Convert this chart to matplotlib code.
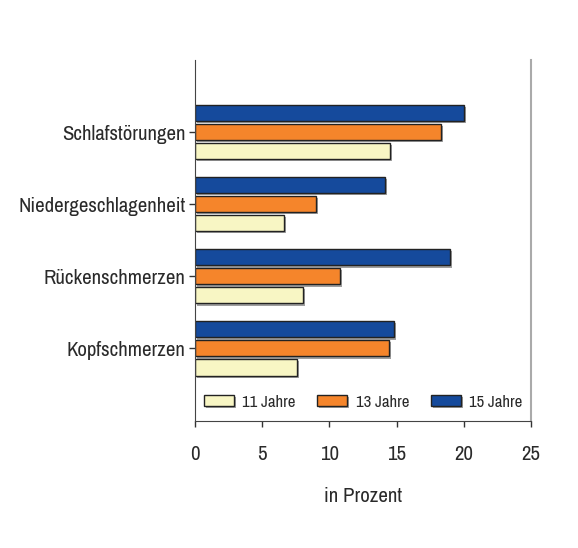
import matplotlib
matplotlib.use('Agg')
import matplotlib.pyplot as plt
import matplotlib.patheffects as pe
import numpy as np

plt.rcParams['font.family'] = ['Archivo Narrow', 'Roboto Condensed', 'DejaVu Sans']

categories = ['Kopfschmerzen', 'Rückenschmerzen', 'Niedergeschlagenheit', 'Schlafstörungen']
jahre_11 = [7.6, 8.0, 6.6, 14.5]
jahre_13 = [14.4, 10.8, 9.0, 18.3]
jahre_15 = [14.8, 19.0, 14.1, 20.0]
series_labels = ['11 Jahre', '13 Jahre', '15 Jahre']
colors = ['#f8f6c4', '#f5852b', '#154a9c']

fig = plt.figure(figsize=(5.78, 5.48), dpi=100)
ax = fig.add_axes([0.3374, 0.2318, 0.5813, 0.6587])

y = np.arange(len(categories))
step = 0.264
h = 0.23
shadow = [pe.SimplePatchShadow(offset=(1.5, -1.5), shadow_rgbFace='#777777', alpha=0.7), pe.Normal()]

for i, (vals, lab, col) in enumerate(zip([jahre_11, jahre_13, jahre_15], series_labels, colors)):
    bars = ax.barh(y + (i - 1) * step, vals, height=h, color=col, edgecolor='#222222',
                   linewidth=1.0, label=lab)
    for b in bars:
        b.set_path_effects(shadow)

ax.set_xlim(0, 25)
ax.set_ylim(-1.01, 4.0)
ax.set_xticks([0, 5, 10, 15, 20, 25])
ax.set_yticks(y)
ax.set_yticklabels(categories)
ax.tick_params(axis='both', labelsize=15, colors='#333333', labelcolor='#2a2a2a')
ax.tick_params(axis='x', length=4, width=1, pad=13)
ax.tick_params(axis='y', length=4, width=1, pad=3)
ax.set_xlabel('in Prozent', fontsize=15, color='#2a2a2a', labelpad=17)

ax.spines['top'].set_visible(False)
ax.spines['left'].set_color('#444444')
ax.spines['bottom'].set_color('#444444')
ax.spines['right'].set_color('#aaaaaa')
ax.spines['right'].set_linewidth(1.5)

ax.legend(loc='lower center', bbox_to_anchor=(0.5, -0.01), ncol=3, frameon=False,
          fontsize=12, handlelength=1.8, handleheight=0.6, columnspacing=1.3,
          handletextpad=0.5, labelcolor='#2a2a2a')

fig.savefig('out.png', dpi=100)
